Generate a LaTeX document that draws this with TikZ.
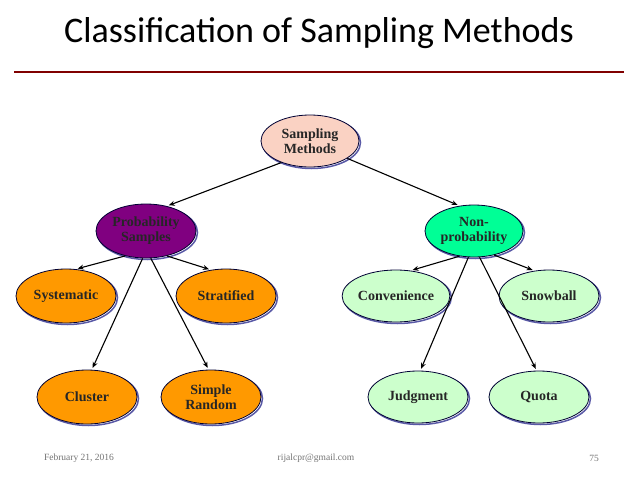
\documentclass[tikz,border=0pt]{standalone}
\usepackage{fontspec}
\setmainfont{Liberation Serif}
\newfontfamily\titlefont{Carlito}
\usetikzlibrary{shapes.geometric,arrows.meta}
\tikzset{
  oval/.style={ellipse, draw=black!80!blue, line width=0.8pt, minimum width=100pt, minimum height=54pt,
    inner sep=0pt, align=center, font=\fontsize{14}{15}\selectfont\bfseries, text=black!85,
    preaction={draw=blue!30!gray, line width=1.5pt, transform canvas={shift={(1.5pt,-1.5pt)}}}},
  link/.style={-{Stealth[length=6pt,width=5pt]}, line width=1.1pt, shorten >=2pt},
  foot/.style={font=\fontsize{9.5}{10}\selectfont, text=black!55}
}
\begin{document}
\begin{tikzpicture}[x=1pt,y=-1pt]
    \useasboundingbox (0,0) rectangle (638,479);

    % Title and rule
    \node (title) at (319,33) {\titlefont\fontsize{36}{38}\selectfont Classification of Sampling Methods};
    \draw[line width=1.8pt, red!50!black] (14,72) -- (624,72);

    % Top node
    \node[oval, fill={rgb,255:red,250;green,210;blue,195}, minimum width=98pt, minimum height=52pt] (sm) at (310,141) {Sampling\\Methods};

    % Second level
    \node[oval, fill={rgb,255:red,128;green,0;blue,128}] (prob) at (146,231) {Probability\\Samples};
    \node[oval, fill={rgb,255:red,0;green,255;blue,150}, minimum width=98pt, minimum height=52pt] (nonprob) at (474,231) {Non-\\probability};

    % Probability leaves
    \node[oval, fill={rgb,255:red,255;green,153;blue,0}] (syst) at (66,296) {Systematic};
    \node[oval, fill={rgb,255:red,255;green,153;blue,0}] (strat) at (226,296) {Stratified};
    \node[oval, fill={rgb,255:red,255;green,153;blue,0}] (clus) at (87,397) {Cluster};
    \node[oval, fill={rgb,255:red,255;green,153;blue,0}] (simple) at (211,397) {Simple\\Random};

    % Non-probability leaves
    \node[oval, fill={rgb,255:red,204;green,255;blue,204}, minimum height=52pt] (conv) at (396,296) {Convenience};
    \node[oval, fill={rgb,255:red,204;green,255;blue,204}, minimum height=52pt] (snow) at (549,296) {Snowball};
    \node[oval, fill={rgb,255:red,204;green,255;blue,204}, minimum height=52pt] (judg) at (418,397) {Judgment};
    \node[oval, fill={rgb,255:red,204;green,255;blue,204}, minimum height=52pt] (quota) at (539,397) {Quota};

    % Arrows
    \draw[link] (sm.217) -- (prob.50);
    \draw[link] (sm.-25) -- (nonprob.120);
    \draw[link] (prob.-130) -- (syst.70);
    \draw[link] (prob.-50) -- (strat.120);
    \draw[link] (prob.-97) -- (clus.80);
    \draw[link] (prob.-80) -- (simple.95);
    \draw[link] (nonprob.-120) -- (conv.60);
    \draw[link] (nonprob.-50) -- (snow.120);
    \draw[link] (nonprob.-102) -- (judg.85);
    \draw[link] (nonprob.-78) -- (quota.95);

    % Footer
    \node[foot] (date) at (79,458) {February 21, 2016};
    \node[foot] (mail) at (316,458) {rijalcpr@gmail.com};
    \node[foot] (page) at (594,458) {75};
\end{tikzpicture}
\end{document}
